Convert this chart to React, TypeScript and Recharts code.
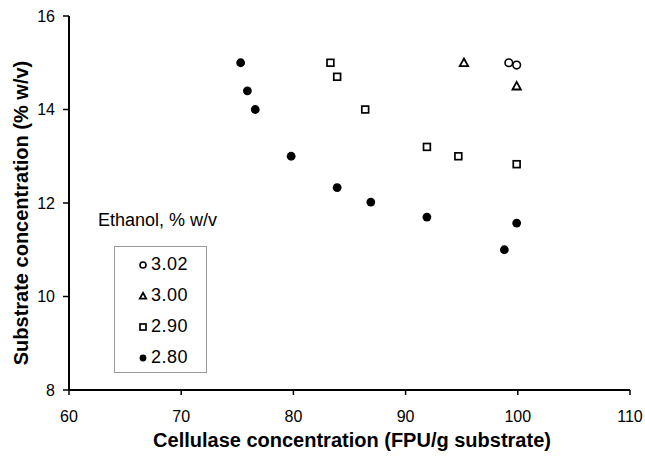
import React from "react";
import { ScatterChart, Scatter, XAxis, YAxis, Legend } from "recharts";

// cellulase (FPU/g) vs substrate (% w/v), grouped by final ethanol level
const x302 = [99.2, 99.9];
const y302 = [15.0, 14.95];

const x300 = [95.2, 99.9];
const y300 = [15.0, 14.5];

const x290 = [83.3, 83.9, 86.4, 91.9, 94.7, 99.9];
const y290 = [15.0, 14.7, 14.0, 13.2, 13.0, 12.83];

const x280 = [75.3, 75.9, 76.6, 79.8, 83.9, 86.9, 91.9, 98.8, 99.9];
const y280 = [15.0, 14.4, 14.0, 13.0, 12.33, 12.02, 11.7, 11.0, 11.57];

const xTicks = [60, 70, 80, 90, 100, 110];
const yTicks = [8, 10, 12, 14, 16];

const seriesNames = ["3.02", "3.00", "2.90", "2.80"];

const FONT = "'Liberation Sans', Arial, sans-serif";

const toPoints = (xs: number[], ys: number[]) => xs.map((x, i) => ({ x, y: ys[i] }));

const OpenCircle = ({ cx, cy, r = 3.8 }: any) => (
  <circle cx={cx} cy={cy} r={r} fill="#fff" stroke="#000" strokeWidth={1.6} />
);

const OpenTriangle = ({ cx, cy, s = 4.2 }: any) => (
  <polygon
    points={`${cx},${cy - s} ${cx + s},${cy + s * 0.8} ${cx - s},${cy + s * 0.8}`}
    fill="#fff"
    stroke="#000"
    strokeWidth={1.8}
  />
);

const OpenSquare = ({ cx, cy, s = 3.4 }: any) => (
  <rect x={cx - s} y={cy - s} width={s * 2} height={s * 2} fill="#fff" stroke="#000" strokeWidth={1.7} />
);

const FilledCircle = ({ cx, cy, r = 4.4 }: any) => <circle cx={cx} cy={cy} r={r} fill="#000" />;

const legendIcons = [
  <OpenCircle cx={7} cy={7} r={3} />,
  <OpenTriangle cx={7} cy={7} s={3.2} />,
  <OpenSquare cx={7} cy={7} s={3} />,
  <FilledCircle cx={7} cy={7} r={3.4} />,
];

const EthanolLegend = () => (
  <div style={{ fontFamily: FONT, color: "#000" }}>
    <div style={{ fontSize: 18, lineHeight: "20px", marginBottom: 16, whiteSpace: "nowrap" }}>Ethanol, % w/v</div>
    <div
      style={{
        marginLeft: 16,
        width: 93,
        height: 127,
        boxSizing: "border-box",
        border: "1px solid #999",
        paddingTop: 2,
      }}
    >
      {seriesNames.map((name, i) => (
        <div key={name} style={{ display: "flex", alignItems: "center", height: 31, paddingLeft: 21 }}>
          <svg width={14} height={14} style={{ marginRight: 1 }}>
            {legendIcons[i]}
          </svg>
          <span style={{ fontSize: 18, letterSpacing: 0.5 }}>{name}</span>
        </div>
      ))}
    </div>
  </div>
);

const XTitle = () => (
  <text x={352} y={447} textAnchor="middle" fontFamily={FONT} fontSize={20} fontWeight="bold" fill="#000">
    Cellulase concentration (FPU/g substrate)
  </text>
);

const YTitle = () => (
  <text
    x={0}
    y={0}
    transform="translate(21,213) rotate(-90)"
    textAnchor="middle"
    dominantBaseline="central"
    fontFamily={FONT}
    fontSize={20}
    fontWeight="bold"
    fill="#000"
  >
    Substrate concentration (% w/v)
  </text>
);

const tickStyle = { fontFamily: FONT, fontSize: 16, fill: "#000" };
const axisLine = { stroke: "#000", strokeWidth: 2 };
const tickLine = { stroke: "#000", strokeWidth: 1.5 };

export default function App() {
  return (
    <div style={{ position: "absolute", left: 0, top: 0, background: "#fff" }}>
      <ScatterChart width={645} height={458} margin={{ top: 16, right: 15, bottom: 0, left: 0 }}>
        <XAxis
          type="number"
          dataKey="x"
          domain={[60, 110]}
          ticks={xTicks}
          height={68}
          tick={tickStyle}
          tickSize={5}
          tickMargin={16}
          axisLine={axisLine}
          tickLine={tickLine}
          label={<XTitle />}
        />
        <XAxis
          xAxisId="top"
          orientation="top"
          type="number"
          domain={[60, 110]}
          height={0}
          tick={false}
          tickLine={false}
          axisLine={axisLine}
        />
        <YAxis
          type="number"
          dataKey="y"
          domain={[8, 16]}
          ticks={yTicks}
          width={69}
          tick={tickStyle}
          tickSize={6}
          tickMargin={8}
          axisLine={axisLine}
          tickLine={tickLine}
          label={<YTitle />}
        />
        <YAxis
          yAxisId="right"
          orientation="right"
          type="number"
          domain={[8, 16]}
          width={0}
          tick={false}
          tickLine={false}
          axisLine={axisLine}
        />
        <Legend
          layout="vertical"
          align="center"
          verticalAlign="middle"
          content={<EthanolLegend />}
          wrapperStyle={{ position: "absolute", left: 98, top: 210, width: 170, height: 170 }}
        />
        <Scatter name="3.02" data={toPoints(x302, y302)} shape={<OpenCircle />} isAnimationActive={false} />
        <Scatter name="3.00" data={toPoints(x300, y300)} shape={<OpenTriangle />} isAnimationActive={false} />
        <Scatter name="2.90" data={toPoints(x290, y290)} shape={<OpenSquare />} isAnimationActive={false} />
        <Scatter name="2.80" data={toPoints(x280, y280)} shape={<FilledCircle />} isAnimationActive={false} />
      </ScatterChart>
    </div>
  );
}
